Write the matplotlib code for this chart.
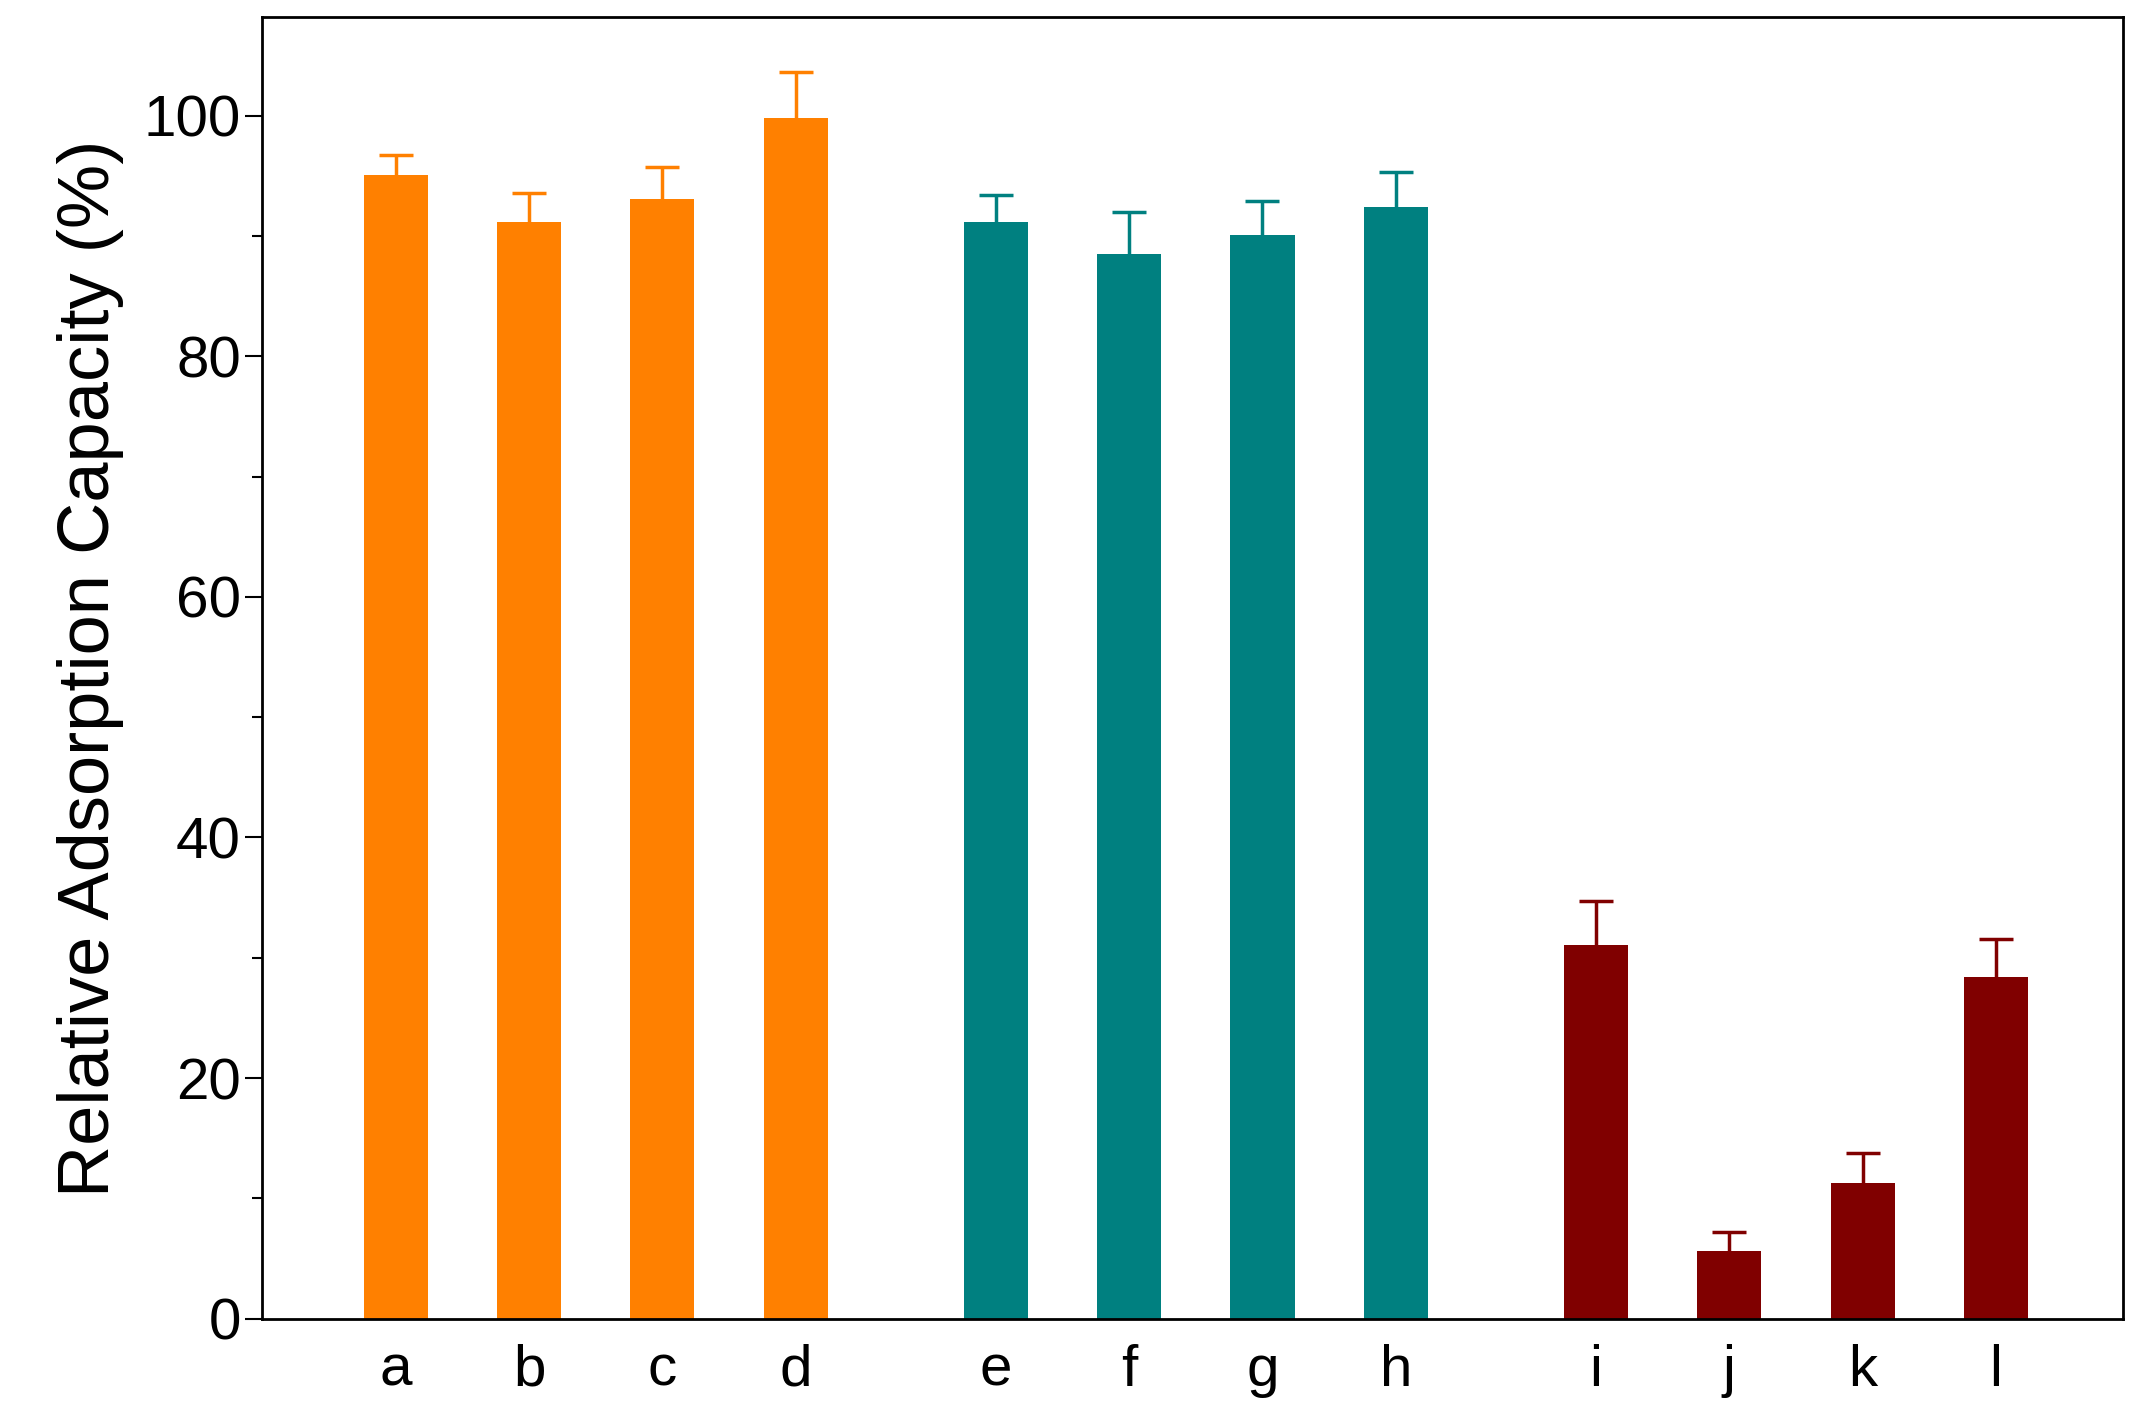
import matplotlib.pyplot as plt
from matplotlib.ticker import MultipleLocator

plt.rcParams['font.family'] = ['Liberation Sans', 'DejaVu Sans']

labels = ['a', 'b', 'c', 'd', 'e', 'f', 'g', 'h', 'i', 'j', 'k', 'l']
values = [95.1, 91.2, 93.1, 99.8, 91.2, 88.5, 90.1, 92.4, 31.1, 5.6, 11.3, 28.4]
errors = [1.6, 2.4, 2.6, 3.8, 2.2, 3.5, 2.8, 2.9, 3.6, 1.6, 2.5, 3.2]
positions = [0, 1, 2, 3, 4.5, 5.5, 6.5, 7.5, 9, 10, 11, 12]
colors = ['#FF8000'] * 4 + ['#008080'] * 4 + ['#800000'] * 4

fig = plt.figure(figsize=(21.44, 14.24), dpi=100)
ax = fig.add_axes([0.1224, 0.074, 0.8676, 0.914])

ax.bar(positions, values, width=0.48, color=colors)
for x, v, e, c in zip(positions, values, errors, colors):
    ax.vlines(x, v, v + e, color=c, linewidth=2.5)
    ax.plot([x], [v + e], marker='_', markersize=24, markeredgewidth=2.5, color=c)

ax.set_xlim(-1.0, 12.95)
ax.set_ylim(0, 108.2)
ax.set_xticks(positions)
ax.set_xticklabels(labels, fontsize=42)
ax.tick_params(axis='x', length=0, pad=18)
ax.yaxis.set_major_locator(MultipleLocator(20))
ax.yaxis.set_minor_locator(MultipleLocator(10))
ax.tick_params(axis='y', which='major', labelsize=42, length=12, width=1.5)
ax.tick_params(axis='y', which='minor', length=7, width=1.5)
ax.set_ylabel('Relative Adsorption Capacity (%)', fontsize=52, labelpad=14)
for s in ax.spines.values():
    s.set_linewidth(2)

plt.savefig('out.png', dpi=100)
